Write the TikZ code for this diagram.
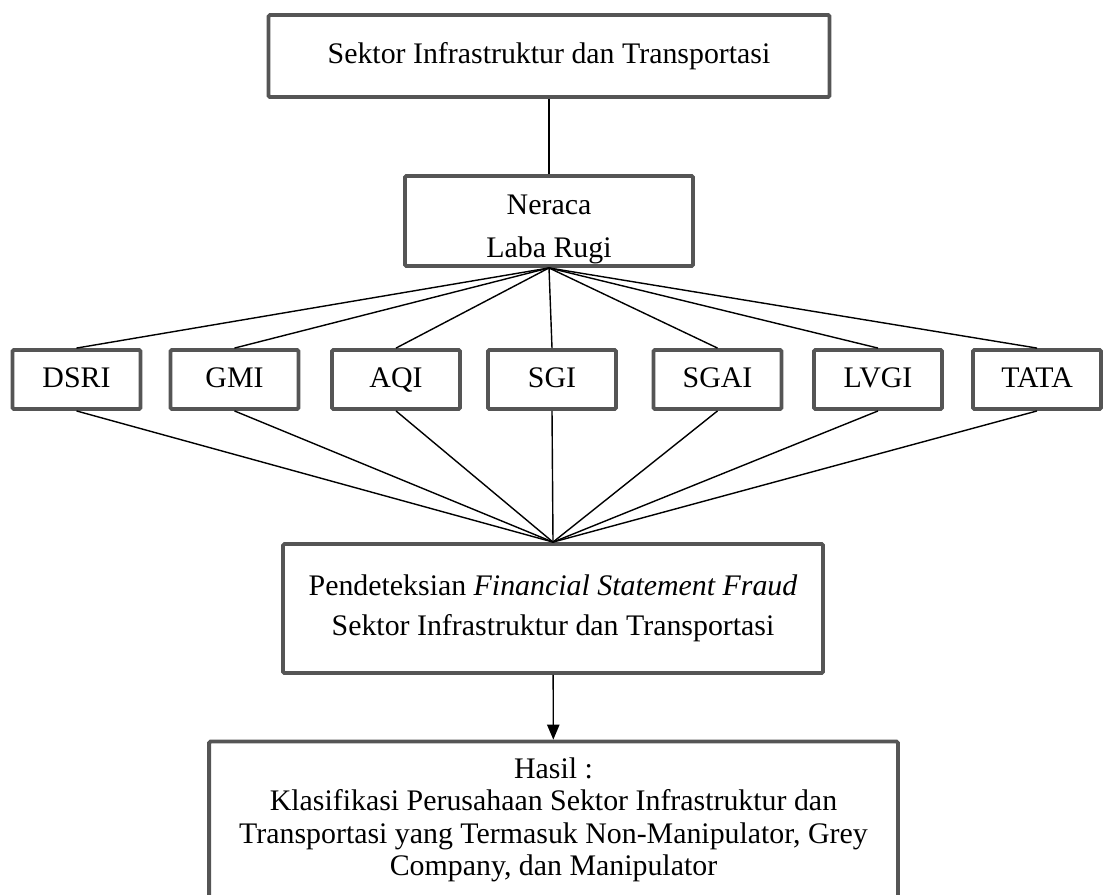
\documentclass[tikz,border=0pt]{standalone}
\usepackage{fontspec}
\setmainfont{Liberation Serif}
\usepackage{tikz}
\usetikzlibrary{shapes,arrows.meta}
\definecolor{boxgray}{RGB}{85,85,85}

\begin{document}
\begin{tikzpicture}[x=0.02cm,y=-0.02cm,
  box/.style={draw=boxgray,line width=2.2pt,rounded corners=0.8pt,align=center,inner sep=0pt,font=\fontsize{17}{18.5}\selectfont},
  rasio/.style={minimum width=2.56cm,minimum height=1.18cm,text height=12.5pt,text depth=3pt},
  link/.style={line width=0.8pt}]
\useasboundingbox (0,0) rectangle (1104,894);
\node[box,minimum width=11.22cm,minimum height=1.64cm] (S) at (549,56) {Sektor Infrastruktur dan Transportasi};
\node[box,minimum width=5.76cm,minimum height=1.8cm,text height=45pt,text depth=4pt,font=\fontsize{17}{24.4}\selectfont] (N) at (549,221) {Neraca\\Laba Rugi};
\node[box,rasio] (DSRI) at (76.5,379.5) {DSRI};
\node[box,rasio] (GMI) at (234.5,379.5) {GMI};
\node[box,rasio] (AQI) at (396,379.5) {AQI};
\node[box,rasio] (SGI) at (552,379.5) {SGI};
\node[box,rasio] (SGAI) at (717.5,379.5) {SGAI};
\node[box,rasio] (LVGI) at (878,379.5) {LVGI};
\node[box,rasio] (TATA) at (1037,379.5) {TATA};
\node[box,minimum width=10.8cm,minimum height=2.58cm,font=\fontsize{17}{22.7}\selectfont] (P) at (553,608.5) {Pendeteksian \textit{Financial Statement Fraud}\\Sektor Infrastruktur dan Transportasi};
\node[box,minimum width=13.78cm,minimum height=3.14cm] (H) at (553.5,820) {Hasil :\\Klasifikasi Perusahaan Sektor Infrastruktur dan\\Transportasi yang Termasuk Non-Manipulator, Grey\\Company, dan Manipulator};
\draw [link] (S) -- (N);
\draw [link] (N.south) -- (DSRI.north);
\draw [link] (N.south) -- (GMI.north);
\draw [link] (N.south) -- (AQI.north);
\draw [link] (N.south) -- (SGI.north);
\draw [link] (N.south) -- (SGAI.north);
\draw [link] (N.south) -- (LVGI.north);
\draw [link] (N.south) -- (TATA.north);
\draw [link] (DSRI.south) -- (P.north);
\draw [link] (GMI.south) -- (P.north);
\draw [link] (AQI.south) -- (P.north);
\draw [link] (SGI.south) -- (P.north);
\draw [link] (SGAI.south) -- (P.north);
\draw [link] (LVGI.south) -- (P.north);
\draw [link] (TATA.south) -- (P.north);
\draw [link,-{Triangle[length=8.5pt,width=7pt]}] (P) -- (H);
\end{tikzpicture}
\end{document}
